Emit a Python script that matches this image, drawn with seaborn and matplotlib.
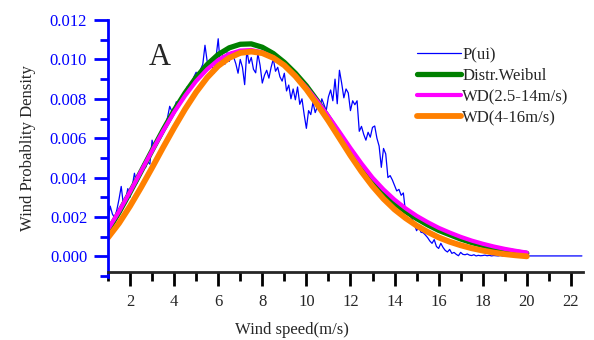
from matplotlib.ticker import MultipleLocator, FormatStrFormatter
from matplotlib import pyplot as plt
import seaborn as sns
import pandas as pd
import numpy as np

# P(ui): measured wind probability, step 0.1 m/s from 1.0 to 20.0, then flat tail
p_speed = list(np.round(np.arange(1.0, 20.01, 0.1), 1)) + [22.5]
p_ui = [
    0.00180, 0.00255, 0.00215, 0.00195, 0.00235, 0.00290, 0.00355, 0.00262, 0.00290, 0.00344,
    0.00300, 0.00355, 0.00422, 0.00370, 0.00395, 0.00440, 0.00470, 0.00450, 0.00480, 0.00468,
    0.00590, 0.00548, 0.00565, 0.00600, 0.00612, 0.00645, 0.00660, 0.00705, 0.00762, 0.00735,
    0.00748, 0.00785, 0.00760, 0.00805, 0.00815, 0.00832, 0.00862, 0.00845, 0.00882, 0.00912,
    0.00935, 0.00902, 0.00950, 0.00975, 0.01072, 0.00990, 0.00962, 0.00985, 0.00930, 0.01010,
    0.01105, 0.00965, 0.01020, 0.00975, 0.01035, 0.00990, 0.01040, 0.01012, 0.00978, 0.00930,
    0.01000, 0.00960, 0.00872, 0.01045, 0.00980, 0.01010, 0.00950, 0.00932, 0.01030, 0.00970,
    0.00880, 0.00920, 0.00945, 0.00905, 0.00960, 0.01002, 0.00940, 0.00960, 0.00912, 0.00890,
    0.00930, 0.00840, 0.00870, 0.00800, 0.00850, 0.00795, 0.00860, 0.00772, 0.00800, 0.00720,
    0.00650, 0.00740, 0.00720, 0.00782, 0.00730, 0.00760, 0.00745, 0.00800, 0.00770, 0.00740,
    0.00810, 0.00845, 0.00790, 0.00900, 0.00775, 0.00945, 0.00880, 0.00805, 0.00850, 0.00830,
    0.00740, 0.00790, 0.00770, 0.00790, 0.00635, 0.00660, 0.00620, 0.00590, 0.00630, 0.00605,
    0.00655, 0.00662, 0.00600, 0.00560, 0.00452, 0.00548, 0.00520, 0.00400, 0.00410, 0.00388,
    0.00360, 0.00332, 0.00340, 0.00310, 0.00322, 0.00222, 0.00240, 0.00205, 0.00190, 0.00162,
    0.00130, 0.00150, 0.00122, 0.00120, 0.00108, 0.00095, 0.00078, 0.00066, 0.00085, 0.00050,
    0.00040, 0.00066, 0.00045, 0.00030, 0.00022, 0.00035, 0.00015, 0.00020, 0.00010, 0.00003,
    0.00020, 0.00010, 0.00008, 0.00012, 0.00006, 0.00004, 0.00008, 0.00002, 0.00005, 0.00003,
    0.00004, 0.00006, 0.00003, 0.00005, 0.00002, 0.00004, 0.00003, 0.00002, 0.00004, 0.00002,
    0.00003, 0.00002, 0.00003, 0.00002, 0.00002, 0.00003, 0.00002, 0.00002, 0.00002, 0.00002,
    0.00002,
    0.00002,
]

# fitted curves, step 0.5 m/s from 1 to 20
fit_speed = list(np.arange(1.0, 20.01, 0.5))
weibull = [
    0.00130, 0.00223, 0.00325, 0.00431, 0.00538, 0.00642, 0.00741, 0.00830, 0.00909, 0.00974,
    0.01025, 0.01059, 0.01077, 0.01079, 0.01062, 0.01030, 0.00985, 0.00930, 0.00866, 0.00790,
    0.00705, 0.00620, 0.00535, 0.00455, 0.00383, 0.00320, 0.00270, 0.00228, 0.00192, 0.00160,
    0.00132, 0.00110, 0.00088, 0.00070, 0.00055, 0.00042, 0.00031, 0.00022, 0.00015,
]
wd_25_14 = [
    0.00137, 0.00228, 0.00328, 0.00432, 0.00536, 0.00637, 0.00732, 0.00816, 0.00890, 0.00950,
    0.00997, 0.01028, 0.01045, 0.01048, 0.01036, 0.01010, 0.00970, 0.00918, 0.00858, 0.00788,
    0.00712, 0.00632, 0.00550, 0.00472, 0.00400, 0.00340, 0.00288, 0.00244, 0.00206, 0.00174,
    0.00145, 0.00121, 0.00099, 0.00080, 0.00064, 0.00050, 0.00038, 0.00028, 0.00019,
]
wd_4_16 = [
    0.00095, 0.00168, 0.00255, 0.00350, 0.00450, 0.00553, 0.00653, 0.00748, 0.00834, 0.00908,
    0.00967, 0.01008, 0.01033, 0.01040, 0.01032, 0.01008, 0.00970, 0.00915, 0.00848, 0.00770,
    0.00688, 0.00600, 0.00512, 0.00430, 0.00356, 0.00292, 0.00238, 0.00194, 0.00156, 0.00124,
    0.00096, 0.00074, 0.00056, 0.00041, 0.00029, 0.00019, 0.00011, 0.00005, 0.00000,
]

df_p = pd.DataFrame({'speed': p_speed, 'dens': p_ui})
df_fit = pd.DataFrame({'speed': fit_speed, 'weibull': weibull, 'wd1': wd_25_14, 'wd2': wd_4_16})

sns.set_style('ticks')
plt.rcParams['font.family'] = ['Liberation Serif', 'DejaVu Serif']

fig = plt.figure(figsize=(5.94, 3.40), dpi=100)
ax = fig.add_axes([0.1818, 0.1853, 0.7997, 0.7557])

sns.lineplot(data=df_p, x='speed', y='dens', color='#0000FF', lw=0.9, label='P(ui)',
             estimator=None, sort=False, ax=ax)
sns.lineplot(data=df_fit, x='speed', y='weibull', color='#008000', lw=3.8, label='Distr.Weibul',
             estimator=None, sort=False, ax=ax)
sns.lineplot(data=df_fit, x='speed', y='wd1', color='#FF00FF', lw=3.0, label='WD(2.5-14m/s)',
             estimator=None, sort=False, ax=ax)
sns.lineplot(data=df_fit, x='speed', y='wd2', color='#FF8000', lw=4.2, label='WD(4-16m/s)',
             estimator=None, sort=False, ax=ax)

ax.set_xlim(1.0, 22.55)
ax.set_ylim(-0.00105, 0.012)

ax.spines['top'].set_visible(False)
ax.spines['right'].set_visible(False)
ax.spines['left'].set_color('#0000FF')
ax.spines['left'].set_linewidth(2)
ax.spines['bottom'].set_linewidth(2)
ax.spines['bottom'].set_position(('data', -0.0008))

ax.xaxis.set_major_locator(MultipleLocator(2))
ax.xaxis.set_minor_locator(MultipleLocator(1))
ax.yaxis.set_major_locator(MultipleLocator(0.002))
ax.yaxis.set_minor_locator(MultipleLocator(0.001))
ax.yaxis.set_major_formatter(FormatStrFormatter('%.3f'))
ax.set_xticks(range(2, 23, 2))

ax.tick_params(axis='y', which='major', length=10, width=2, color='#0000FF',
               labelcolor='#0000FF', labelsize=12, pad=5, direction='out')
ax.tick_params(axis='y', which='minor', length=6, width=2, color='#0000FF', direction='out')
ax.tick_params(axis='x', which='major', length=10, width=2, color='black',
               labelsize=12, pad=6, direction='out')
ax.tick_params(axis='x', which='minor', length=6.5, width=2, color='black', direction='out')

ax.set_xlabel('Wind speed(m/s)', fontsize=12, labelpad=4)
ax.xaxis.set_label_coords(0.387, -0.175)
ax.set_ylabel('Wind Probablity Density', fontsize=12, labelpad=10)

ax.text(0.108, 0.856, 'A', transform=ax.transAxes, fontsize=22, ha='center', va='center')

ax.legend(loc='upper left', bbox_to_anchor=(0.637, 0.92), frameon=False, fontsize=12,
          handlelength=2.6, handletextpad=0.1, labelspacing=0.3, borderaxespad=0)

fig.savefig('out.png', dpi=100)
